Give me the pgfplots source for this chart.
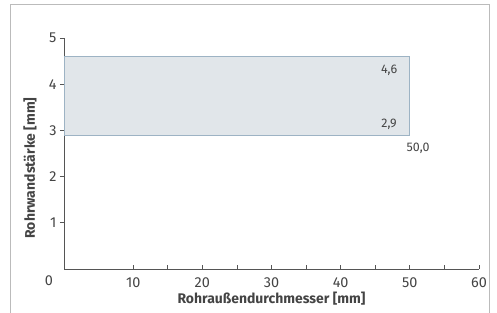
\documentclass[border=0pt]{standalone}
\usepackage{pgfplots}
\pgfplotsset{compat=1.18}
\usepackage{fontspec}
\setmainfont{Fira Sans}
\definecolor{rectfill}{HTML}{E1E6EA}
\definecolor{rectdraw}{HTML}{9DB3C4}
\definecolor{axisgray}{HTML}{555555}
\definecolor{txtgray}{HTML}{444444}
\definecolor{framegray}{HTML}{BBBBBB}
\begin{document}
\begin{tikzpicture}
\useasboundingbox (0,0) rectangle (497bp,313bp);
\draw[framegray, line width=1bp] (10bp,0) -- (10bp,308bp) -- (489bp,308bp) -- (489bp,0);
\begin{axis}[
  at={(64bp,44bp)}, anchor=south west,
  scale only axis, width=415bp, height=231bp,
  xmin=0, xmax=60, ymin=0, ymax=5,
  axis x line=bottom, axis y line=left,
  axis line style={-, axisgray, line width=0.9bp},
  xtick={10,20,...,60}, ytick={1,2,3,4,5},
  minor x tick num=1,
  tick align=outside,
  major tick length=4bp, minor tick length=4bp,
  xtick style={yshift=4bp, axisgray, line width=0.7bp},
  ytick style={axisgray, line width=0.7bp},
  ticklabel style={font=\fontsize{14.5}{16}\selectfont, text=txtgray},
  /pgf/number format/assume math mode=true,
  xticklabel style={yshift=-1bp},
  yticklabel style={xshift=0bp},
  xlabel={Rohraußendurchmesser [mm]},
  ylabel={Rohrwandstärke [mm]},
  label style={font=\bfseries\fontsize{14}{16}\selectfont, text=txtgray},
  xlabel style={at={(axis description cs:0.5,0)}, anchor=center, yshift=-30bp},
  ylabel style={at={(axis description cs:0,0.437)}, anchor=center, yshift=34bp},
  clip=false,
]
\addplot[fill=rectfill, draw=rectdraw, line width=1bp] coordinates {(0,2.9) (50,2.9) (50,4.6) (0,4.6)} -- cycle;
\node[font=\fontsize{12.5}{14}\selectfont, text=txtgray] at (axis cs:47.0,4.29) {4,6};
\node[font=\fontsize{12.5}{14}\selectfont, text=txtgray] at (axis cs:47.0,3.14) {2,9};
\node[font=\fontsize{12.5}{14}\selectfont, text=txtgray] at (axis cs:51.2,2.62) {50,0};
\node[font=\fontsize{14.5}{16}\selectfont, text=txtgray] at (axis cs:-2.2,-0.25) {0};
\end{axis}
\end{tikzpicture}
\end{document}
